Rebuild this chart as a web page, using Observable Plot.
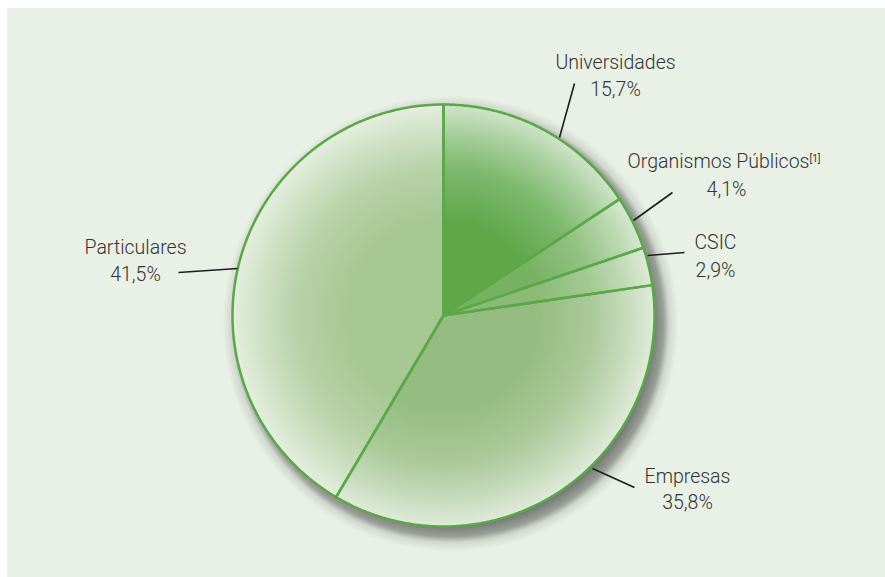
<!DOCTYPE html>
<html><head><meta charset="utf-8">
<script src="https://cdn.jsdelivr.net/npm/d3@7"></script>
<script src="https://cdn.jsdelivr.net/npm/@observablehq/plot@0.6"></script>
<style>body{margin:0;background:#fff}</style>
</head><body><div id="chart"></div>
<script>
// ---- data ----
const categories = ["Universidades", "Organismos Públicos", "CSIC", "Empresas", "Particulares"];
const shares = [15.7, 4.1, 2.9, 35.8, 41.5];
const valueLabels = ["15,7%", "4,1%", "2,9%", "35,8%", "41,5%"];
const footnotes = ["", "[1]", "", "", ""];

// ---- styles / layout ----
const sliceColors = ["#5ea84a", "#76b262", "#8bbb77", "#95bd81", "#a6c893"];
const W = 885, H = 577;
const cx = 443, cy = 315, R = 211, SR = 228;
const panel = [{x1: 7, x2: 885, y1: 8, y2: 577}];
const labelLayout = [
  {x: 615, yName: 68, yValue: 95, lx1: 559, ly1: 137, lx2: 574, ly2: 83},
  {x: 718, yName: 167, yValue: 195, xValue: 726, lx1: 633, ly1: 220, lx2: 672, ly2: 192, xNote: 809, yNote: 161},
  {x: 715, yName: 248, yValue: 276, lx1: 647, ly1: 255, lx2: 684, ly2: 252},
  {x: 687, yName: 482, yValue: 508, lx1: 592, ly1: 468, lx2: 634, ly2: 487},
  {x: 135, yName: 253, yValue: 280, lx1: 237, ly1: 268, lx2: 178, ly2: 272}
];
const fontSize = 19.5;
const font = "Roboto, 'Open Sans', sans-serif";

// ---- geometry from data ----
const arcs = d3.pie().sort(null).value(d => d)(shares);
const slices = arcs.map((a, i) => {
  const pts = [{x: cx, y: cy}];
  const n = Math.max(4, Math.ceil((a.endAngle - a.startAngle) / (Math.PI / 360)));
  for (let k = 0; k <= n; k++) {
    const t = a.startAngle + (a.endAngle - a.startAngle) * k / n;
    pts.push({x: cx + R * Math.sin(t), y: cy - R * Math.cos(t)});
  }
  return pts;
});
const labels = categories.map((c, i) => ({
  name: c, value: valueLabels[i], note: footnotes[i], ...labelLayout[i]
}));
const base = fontSize * 0.32;

const chart = Plot.plot({
  width: W, height: H, margin: 0,
  x: {domain: [0, W], range: [0, W], axis: null},
  y: {domain: [0, H], range: [0, H], axis: null},
  style: {background: "transparent"},
  marks: [
    Plot.rect(panel, {x1: "x1", x2: "x2", y1: "y1", y2: "y2", fill: "#e9f0e5"}),
    Plot.dot([{x: cx + 7, y: cy + 8}], {x: "x", y: "y", r: SR, fill: "url(#shadowgrad)"}),
    ...slices.map((s, i) => Plot.line(s, {x: "x", y: "y", fill: sliceColors[i], stroke: "none", curve: "linear-closed"})),
    Plot.dot([{x: cx, y: cy}], {x: "x", y: "y", r: R, fill: "url(#rimlight)"}),
    ...slices.map(s => Plot.line(s, {x: "x", y: "y", stroke: "#5aa847", strokeWidth: 2.5, strokeLinejoin: "round", curve: "linear-closed"})),
    Plot.link(labels, {x1: "lx1", y1: "ly1", x2: "lx2", y2: "ly2", stroke: "#1e1e1e", strokeWidth: 1.6}),
    Plot.text(labels, {x: "x", y: d => d.yName - base, text: "name", fontSize, fontFamily: font, fontWeight: 300, fill: "#333", textAnchor: "middle"}),
    Plot.text(labels, {x: d => d.xValue ?? d.x, y: d => d.yValue - base, text: "value", fontSize, fontFamily: font, fontWeight: 300, fill: "#333", textAnchor: "middle"}),
    Plot.text(labels.filter(d => d.note), {x: "xNote", y: d => d.yNote - 10 * 0.32, text: "note", fontSize: 10, fontFamily: font, fill: "#333", textAnchor: "start"})
  ]
});

const svg = d3.select(chart);
const defs = svg.insert("defs", ":first-child");
const sg = defs.append("radialGradient").attr("id", "shadowgrad").attr("cx", "50%").attr("cy", "50%").attr("r", "50%");
[[0, 0.75], [(R - 10) / SR, 0.75], [(R + 2) / SR, 0.5], [0.96, 0.15], [1, 0]].forEach(([o, a]) =>
  sg.append("stop").attr("offset", o).attr("stop-color", "#4a4e4a").attr("stop-opacity", a));
const g = defs.append("radialGradient").attr("id", "rimlight").attr("cx", "50%").attr("cy", "50%").attr("r", "50%");
[[0, 0], [0.45, 0], [0.7, 0.2], [0.88, 0.48], [1, 0.7]].forEach(([o, a]) =>
  g.append("stop").attr("offset", o).attr("stop-color", "#ffffff").attr("stop-opacity", a));

document.getElementById("chart").appendChild(chart);
</script>
</body></html>
